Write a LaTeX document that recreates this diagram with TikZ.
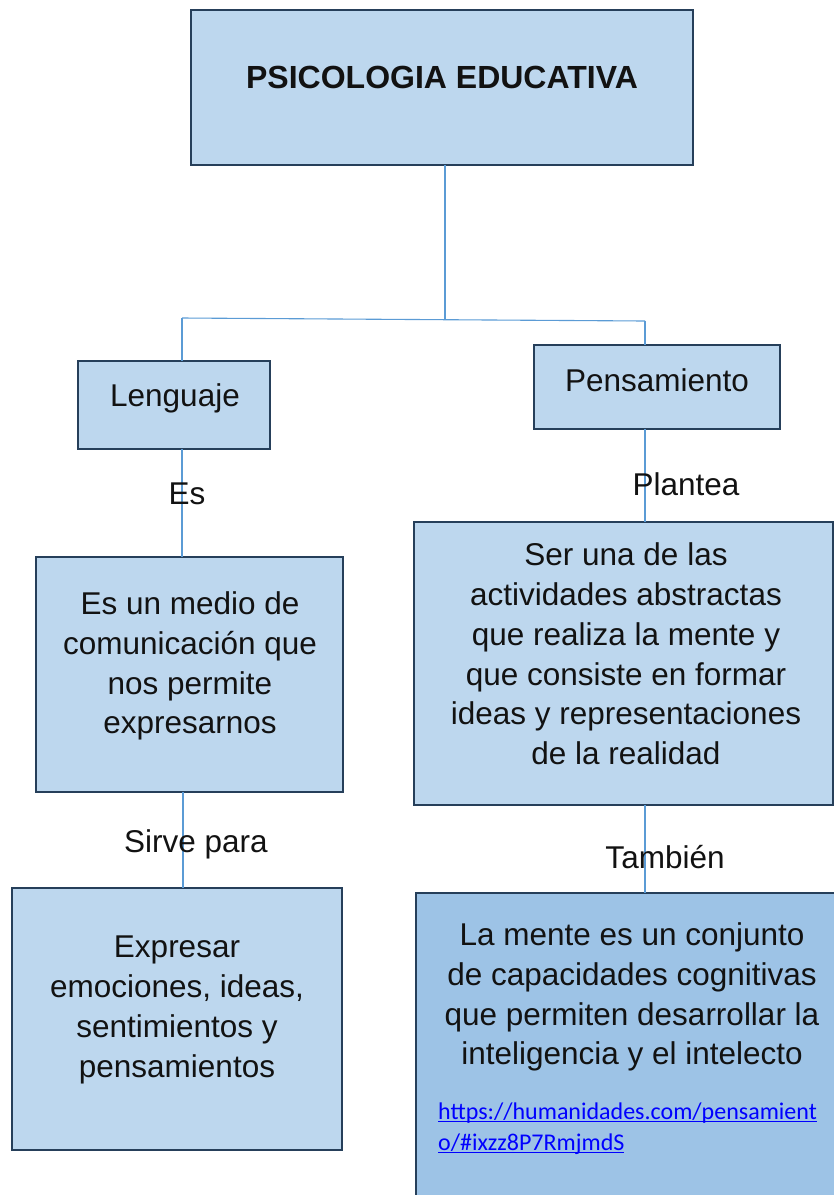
\documentclass[tikz,border=0pt]{standalone}
\usepackage{fontspec}
\setmainfont{Liberation Sans}
\newfontfamily\linkfont{Carlito}
\definecolor{boxfill}{HTML}{BDD7EE}
\definecolor{boxfilldark}{HTML}{9DC3E6}
\definecolor{boxline}{HTML}{263F5A}
\definecolor{conn}{HTML}{5B9BD5}
\definecolor{linkblue}{HTML}{0000FF}
\newcommand{\lnkul}[1]{\setbox0\hbox{#1}\rlap{\rule[-2.6pt]{\wd0}{1.1pt}}\box0}
\tikzset{
  conbox/.style={draw=boxline, line width=2.8pt, fill=boxfill, inner sep=0pt, outer sep=0pt},
  conline/.style={draw=conn, line width=1.1pt},
  bodytext/.style={font=\fontsize{31.5}{39.8}\selectfont, align=center, inner sep=0pt, text=black!93},
  titletext/.style={font=\fontsize{32}{38}\selectfont\bfseries, inner sep=0pt, text=black!93},
}
\begin{document}
\begin{tikzpicture}[x=1pt,y=-1pt]
\useasboundingbox (0,0) rectangle (834,1195);
% boxes
\node[conbox, minimum width=502pt, minimum height=155pt] (title) at (442,87.5) {};
\node[conbox, minimum width=192pt, minimum height=88pt] (leng) at (174,405) {};
\node[conbox, minimum width=246pt, minimum height=84pt] (pens) at (657,387) {};
\node[conbox, minimum width=307pt, minimum height=235pt] (medio) at (189.5,674.5) {};
\node[conbox, minimum width=419pt, minimum height=283pt] (ser) at (623.5,663.5) {};
\node[conbox, minimum width=330pt, minimum height=262pt] (expr) at (177,1019) {};
\node[conbox, fill=boxfilldark, minimum width=429pt, minimum height=312pt] (mente) at (630.5,1049) {};
% connectors
\coordinate (jl) at (182,318);
\coordinate (jr) at (645,321);
\coordinate (jm) at (445,319.6);
\draw[conline] (title.south -| jm) -- (jm);
\draw[conline] (jl) -- (jr);
\draw[conline] (jl) -- (jl |- leng.north);
\draw[conline] (jr) -- (jr |- pens.north);
\draw[conline] (182,449) coordinate (lb) -- (lb |- medio.north);
\draw[conline] (645,429) coordinate (pb) -- (pb |- ser.north);
\draw[conline] (183,792) coordinate (mb) -- (mb |- expr.north);
\draw[conline] (645,805) coordinate (sb) -- (sb |- mente.north);
% texts
\node[titletext] (ttitle) at (442,77) {PSICOLOGIA EDUCATIVA};
\node[bodytext] (tleng) at (175,398) {Lenguaje};
\node[bodytext] (tpens) at (657,380) {Pensamiento};
\node[bodytext] (les) at (187,494) {Es};
\node[bodytext] (lplan) at (686,484) {Plantea};
\node[bodytext] (lsirve) at (196,844) {Sirve para};
\node[bodytext] (ltamb) at (665,857) {También};
\node[bodytext] (tmedio) at (190,666) {Es un medio de\\comunicación que\\nos permite\\expresarnos};
\node[bodytext] (tser) at (626,654) {Ser una de las\\actividades abstractas\\que realiza la mente y\\que consiste en formar\\ideas y representaciones\\de la realidad};
\node[bodytext] (texpr) at (177,1010) {Expresar\\emociones, ideas,\\sentimientos y\\pensamientos};
\node[bodytext] (tmente) at (632,997) {La mente es un conjunto\\de capacidades cognitivas\\que permiten desarrollar la\\inteligencia y el intelecto};
\node[anchor=north west, inner sep=0pt, align=left, text=linkblue, font=\linkfont\fontsize{24}{31}\selectfont] (link) at (438,1103) {\lnkul{https://humanidades.com/pensamient}\\\lnkul{o/\#ixzz8P7RmjmdS}};
\end{tikzpicture}
\end{document}
